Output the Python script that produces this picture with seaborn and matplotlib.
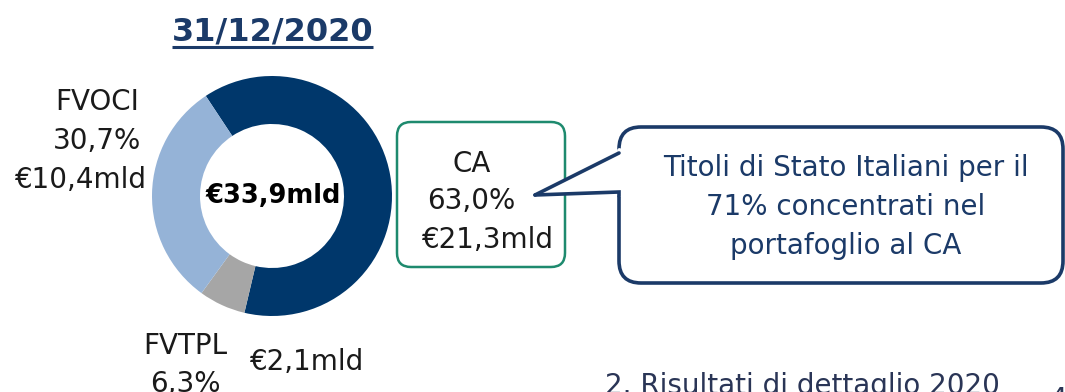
import matplotlib
matplotlib.use("Agg")
import matplotlib.pyplot as plt
from matplotlib.patches import FancyBboxPatch, Polygon
import seaborn as sns

# Portfolio breakdown at year end
title = "31/12/2020"
total_label = "€33,9mld"
categories = ["CA", "FVTPL", "FVOCI"]
shares_pct = [63.0, 6.3, 30.7]
amounts_bn = [21.3, 2.1, 10.4]
callout_lines = ["Titoli di Stato Italiani per il", "71% concentrati nel", "portafoglio al CA"]
footer = "2. Risultati di dettaglio 2020"
page_number = "4"

sns.set_theme(style="white")
plt.rcParams["font.family"] = ["DejaVu Sans"]

navy = "#00376B"
light_blue = "#95B3D7"
grey = "#A6A6A6"
text_navy = "#1B3A68"
teal = "#1E8A6E"
colors = sns.color_palette([navy, grey, light_blue])

W, H = 1065, 392
fig = plt.figure(figsize=(W / 100, H / 100), dpi=100)

# Full-figure overlay in pixel coordinates for labels and boxes
ov = fig.add_axes([0, 0, 1, 1])
ov.set_xlim(0, W)
ov.set_ylim(H, 0)
ov.axis("off")

# Donut chart
cx, cy, r = 272, 196, 120
pie_ax = fig.add_axes([(cx - r) / W, (H - cy - r) / H, 2 * r / W, 2 * r / H])
pie_ax.pie(shares_pct, colors=colors, startangle=123.5, counterclock=False,
           radius=1.0, wedgeprops=dict(width=0.4, edgecolor="none"))
pie_ax.set_xlim(-1, 1)
pie_ax.set_ylim(-1, 1)
pie_ax.set_aspect("auto")
pie_ax.axis("off")

def fmt_pct(v):
    return f"{v:.1f}%".replace(".", ",")

def fmt_amt(v):
    return f"€{v:.1f}mld".replace(".", ",")

fs = 20
dark = "#1A1A1A"

# Title with underline
ov.text(272.5, 40, title, ha="center", va="baseline", fontsize=23,
        fontweight="bold", color=text_navy)
ov.plot([172, 373], [46.5, 46.5], color=text_navy, lw=2.2, solid_capstyle="butt")

# Centre total
ov.text(273, 203, total_label, ha="center", va="baseline", fontsize=18.5,
        fontweight="bold", color="black")

# FVOCI label
ov.text(97.5, 110, categories[2], ha="center", va="baseline", fontsize=fs, color=dark)
ov.text(97, 149, fmt_pct(shares_pct[2]), ha="center", va="baseline", fontsize=fs, color=dark)
ov.text(81, 188, fmt_amt(amounts_bn[2]), ha="center", va="baseline", fontsize=fs, color=dark)

# FVTPL label
ov.text(185, 354, categories[1], ha="center", va="baseline", fontsize=fs, color=dark)
ov.text(185, 392, fmt_pct(shares_pct[1]), ha="center", va="baseline", fontsize=fs, color=dark)
ov.text(307.5, 370, fmt_amt(amounts_bn[1]), ha="center", va="baseline", fontsize=fs, color=dark)

# CA box
ca_box = FancyBboxPatch((397 + 14, 122 + 14), 168 - 28, 145 - 28,
                        boxstyle="round,pad=14", fc="white", ec=teal, lw=1.8)
ov.add_patch(ca_box)
ov.text(472, 172, categories[0], ha="center", va="baseline", fontsize=fs, color=dark)
ov.text(471.5, 209, fmt_pct(shares_pct[0]), ha="center", va="baseline", fontsize=fs, color=dark)
ov.text(487.5, 248, fmt_amt(amounts_bn[0]), ha="center", va="baseline", fontsize=fs, color=dark)

# Speech-bubble callout
bx0, by0, bx1, by1, rad = 619, 127, 1063, 283, 22
bubble = FancyBboxPatch((bx0 + rad, by0 + rad), bx1 - bx0 - 2 * rad, by1 - by0 - 2 * rad,
                        boxstyle=f"round,pad={rad}", fc="white", ec=text_navy, lw=2.6,
                        zorder=3)
ov.add_patch(bubble)
ov.add_patch(Polygon([[622, 151], [540, 194], [622, 190.5]], closed=True,
                     fc="white", ec="none", zorder=4.5))
ov.plot([619, 619], [150, 194], color="white", lw=3.5, zorder=4.6)
ov.plot([535, 619], [195, 153], color=text_navy, lw=2.6, zorder=5, solid_capstyle="round")
ov.plot([535, 619, 619], [195, 192, 196], color=text_navy, lw=2.6, zorder=5,
        solid_joinstyle="miter")
for i, line in enumerate(callout_lines):
    ov.text(846, 176 + 39 * i, line, ha="center", va="baseline", fontsize=fs,
            color=text_navy, zorder=6)

# Footer with page number
ov.text(605, 394, footer, ha="left", va="baseline", fontsize=fs, color="#2A3556")
ov.text(1050, 408, page_number, ha="left", va="baseline", fontsize=fs, color="#2A3556")

fig.savefig("out.png", dpi=100, facecolor="white")
